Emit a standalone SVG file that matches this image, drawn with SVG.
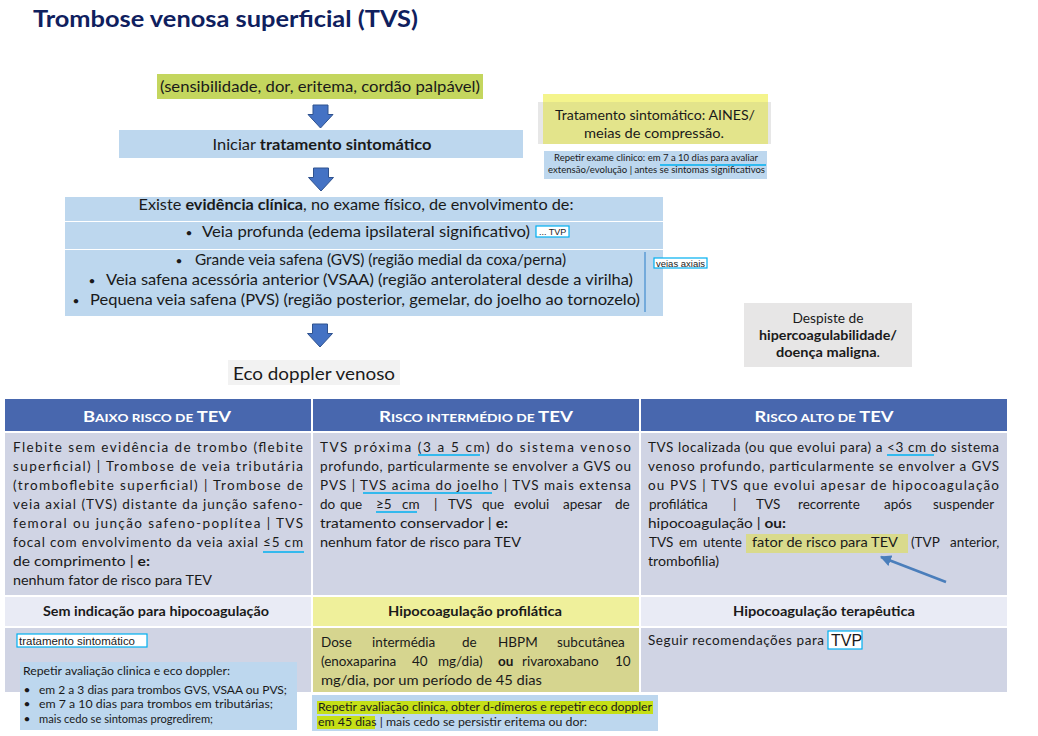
<svg xmlns="http://www.w3.org/2000/svg" width="1038" height="736" viewBox="0 0 1038 736">
<defs>
<style>
text { font-family: Lato, "Liberation Sans", sans-serif; fill: #1a1a1a; }
.title { fill: #0f205e; font-size: 23.5px; font-weight: 700; }
.f135 { font-size: 13.5px; }
.b { font-weight: 700; }
.m { text-anchor: middle; }
.hw { fill: #ffffff; font-weight: 700; }
.ar { font-family: "Liberation Sans", Arial, sans-serif; }
.ul { stroke: #00b0f0; stroke-width: 1.5; fill: none; }
.blk { fill: #4472c4; stroke: #2f528f; stroke-width: 1; }
.lb { fill: #bdd7ee; }
.body { fill: #d0d4e4; }
.band { fill: #e9ebf5; }
.hdr { fill: #4867ae; }
.tag { fill: #ffffff; stroke: #00b0f0; stroke-width: 1.2; }
.bul { font-size: 12px; text-anchor: middle; }
</style>
<path id="darr" d="M-7.5,0 H7.5 V9.5 H12.5 L0,23 L-12.5,9.5 H-7.5 Z"/>
<marker id="ah" viewBox="0 0 10 10" refX="9" refY="5" markerWidth="4.5" markerHeight="4.5" orient="auto">
<path d="M0,0 L10,5 L0,10 Z" fill="#4a7ebb"/>
</marker>
</defs>
<rect x="0" y="0" width="1038" height="736" fill="#ffffff"/>

<text id="title" class="title" x="33" y="27" textLength="385" lengthAdjust="spacingAndGlyphs">Trombose venosa superficial (TVS)</text>

<g id="sintomas">
<rect x="157" y="74" width="326" height="25" fill="#c4d65e"/>
<text x="320" y="92" class="m" font-size="15" textLength="320" lengthAdjust="spacingAndGlyphs">(sensibilidade, dor, eritema, cordão palpável)</text>
</g>

<g id="iniciar">
<rect x="119" y="130" width="404" height="28" class="lb"/>
<text x="322" y="150" class="m" font-size="15" textLength="219" lengthAdjust="spacingAndGlyphs">Iniciar <tspan class="b">tratamento sintomático</tspan></text>
</g>

<g id="evidencia">
<rect x="65" y="197" width="598" height="24" class="lb"/>
<rect x="65" y="222" width="598" height="27" class="lb"/>
<rect x="65" y="250" width="598" height="66" class="lb"/>
<text x="356" y="210" class="m" font-size="14.7" textLength="435" lengthAdjust="spacingAndGlyphs">Existe <tspan class="b">evidência clínica</tspan>,  no exame físico, de envolvimento de:</text>
<text x="189" y="237" class="bul">•</text>
<text x="202" y="237" font-size="14.7" textLength="328" lengthAdjust="spacingAndGlyphs">Veia profunda (edema ipsilateral significativo)</text>
<text x="179" y="265" class="bul">•</text>
<text x="195" y="265" font-size="14.7" textLength="371" lengthAdjust="spacingAndGlyphs">Grande veia safena (GVS) (região medial da coxa/perna)</text>
<text x="92" y="285" class="bul">•</text>
<text x="106" y="285" font-size="14.7" textLength="527" lengthAdjust="spacingAndGlyphs">Veia safena acessória anterior (VSAA) (região anterolateral desde a virilha)</text>
<text x="76" y="305" class="bul">•</text>
<text x="90" y="305" font-size="14.7" textLength="550" lengthAdjust="spacingAndGlyphs">Pequena veia safena (PVS) (região posterior, gemelar, do joelho ao tornozelo)</text>
<line x1="645" y1="252" x2="645" y2="312" stroke="#5b9bd5" stroke-width="1.5"/>
</g>

<g id="tag-tvp">
<rect x="536" y="226" width="33" height="11" class="tag"/>
<text x="539" y="235" class="ar" font-size="9">... TVP</text>
</g>

<g id="tag-axiais">
<rect x="654" y="258" width="53" height="10" class="tag"/>
<text x="656" y="266.5" class="ar" font-size="9.5" textLength="49" lengthAdjust="spacingAndGlyphs">veias axiais</text>
</g>

<g id="eco">
<rect x="228" y="360" width="172" height="25" fill="#f2f2f2"/>
<text x="314" y="380" class="m" font-size="17.5" textLength="162" lengthAdjust="spacingAndGlyphs">Eco doppler venoso</text>
</g>

<g id="tratamento-sint">
<rect x="538" y="102" width="233" height="42" fill="#e7e7e7"/>
<rect x="543" y="94" width="225" height="8" fill="#f4f48c"/>
<rect x="543" y="102" width="225" height="42" fill="#e3e48b"/>
<text x="655" y="120" class="m" font-size="14" textLength="200" lengthAdjust="spacingAndGlyphs">Tratamento sintomático: AINES/</text>
<text x="654" y="138" class="m" font-size="14" textLength="140" lengthAdjust="spacingAndGlyphs">meias de compressão.</text>
</g>

<g id="repetir-exame">
<rect x="544" y="151" width="223" height="28" class="lb"/>
<text x="554" y="161" font-size="8.5" textLength="204" lengthAdjust="spacingAndGlyphs">Repetir  exame  clinico:  em  7  a  10  dias  para  avaliar</text>
<text x="548" y="173" font-size="8.5" textLength="217" lengthAdjust="spacingAndGlyphs">extensão/evolução  | antes se sintomas significativos</text>
<line x1="660" y1="165" x2="766" y2="165" class="ul" stroke-width="1.2"/>
</g>

<g id="despiste">
<rect x="744" y="303" width="168" height="64" fill="#e7e6e6"/>
<text x="828" y="323" class="m" font-size="14" textLength="71" lengthAdjust="spacingAndGlyphs">Despiste de</text>
<text x="828" y="340" class="m b" font-size="14" textLength="138" lengthAdjust="spacingAndGlyphs">hipercoagulabilidade/</text>
<text x="828" y="357" class="m" font-size="14" textLength="104" lengthAdjust="spacingAndGlyphs"><tspan class="b">doença maligna</tspan>.</text>
</g>

<g id="baixo-risco">
<rect x="5" y="399" width="306" height="32" class="hdr"/>
<text x="157" y="422" class="hw m" textLength="148" lengthAdjust="spacingAndGlyphs"><tspan font-size="15.5">B</tspan><tspan font-size="11.5">AIXO RISCO DE </tspan><tspan font-size="15.5">TEV</tspan></text>
<rect x="5" y="433" width="306" height="162" class="body"/>
<g class="f135">
<text x="13" y="452" textLength="290" lengthAdjust="spacing">Flebite sem evidência de trombo (flebite</text>
<text x="13" y="471" textLength="290" lengthAdjust="spacing">superficial) | Trombose de veia tributária</text>
<text x="13" y="490" textLength="290" lengthAdjust="spacing">(tromboflebite superficial) | Trombose de</text>
<text x="13" y="509" textLength="290" lengthAdjust="spacing">veia axial (TVS) distante da junção safeno-</text>
<text x="13" y="528" textLength="290" lengthAdjust="spacing">femoral ou junção safeno-poplítea | TVS</text>
<text x="13" y="547" textLength="290" lengthAdjust="spacing">focal com envolvimento da veia axial ≤5 cm</text>
<text x="13" y="566" textLength="137" lengthAdjust="spacingAndGlyphs">de comprimento  | <tspan class="b">e:</tspan></text>
<text x="13" y="585" textLength="199" lengthAdjust="spacingAndGlyphs">nenhum fator de risco para TEV</text>
</g>
<line x1="263" y1="552" x2="304" y2="552" class="ul"/>
<rect x="5" y="597" width="306" height="29" class="band"/>
<text x="156" y="616" class="m b" font-size="13.5" textLength="226" lengthAdjust="spacingAndGlyphs">Sem indicação para hipocoagulação</text>
<rect x="5" y="628" width="306" height="64" class="body"/>
</g>

<g id="tag-trat">
<rect x="17" y="634" width="130" height="13" class="tag"/>
<text x="19" y="645" class="ar" font-size="11.5" textLength="116" lengthAdjust="spacingAndGlyphs">tratamento sintomático</text>
</g>

<g id="repetir-baixo">
<rect x="20" y="662" width="277" height="68" class="lb"/>
<text x="23" y="675" font-size="11" textLength="207" lengthAdjust="spacingAndGlyphs">Repetir avaliação clinica e eco doppler:</text>
<text x="27" y="694" class="bul" font-size="11">•</text>
<text x="39" y="694" font-size="11" textLength="248" lengthAdjust="spacingAndGlyphs">em 2 a 3 dias para trombos GVS, VSAA ou PVS;</text>
<text x="27" y="708" class="bul" font-size="11">•</text>
<text x="39" y="708" font-size="11" textLength="234" lengthAdjust="spacingAndGlyphs">em 7 a 10 dias para trombos em tributárias;</text>
<text x="27" y="723" class="bul" font-size="11">•</text>
<text x="39" y="723" font-size="11" textLength="174" lengthAdjust="spacingAndGlyphs">mais cedo se sintomas progredirem;</text>
</g>

<g id="risco-intermedio">
<rect x="313" y="399" width="326" height="32" class="hdr"/>
<text x="476" y="422" class="hw m" textLength="194" lengthAdjust="spacingAndGlyphs"><tspan font-size="15.5">R</tspan><tspan font-size="11.5">ISCO INTERMÉDIO DE </tspan><tspan font-size="15.5">TEV</tspan></text>
<rect x="313" y="433" width="326" height="162" class="body"/>
<g class="f135">
<text x="320" y="452" textLength="311" lengthAdjust="spacing">TVS próxima (3 a 5 cm) do sistema venoso</text>
<text x="320" y="471" textLength="311" lengthAdjust="spacing">profundo, particularmente se envolver a GVS ou</text>
<text x="320" y="490" textLength="311" lengthAdjust="spacing">PVS | TVS acima do joelho | TVS mais extensa</text>
<text y="509"><tspan x="320">do</tspan><tspan x="340">que</tspan><tspan x="376">≥5</tspan><tspan x="402">cm</tspan><tspan x="434">|</tspan><tspan x="448">TVS</tspan><tspan x="482">que</tspan><tspan x="514">evolui</tspan><tspan x="563">apesar</tspan><tspan x="615">de</tspan></text>
<text x="320" y="528" textLength="188" lengthAdjust="spacingAndGlyphs">tratamento conservador | <tspan class="b">e:</tspan></text>
<text x="320" y="547" textLength="201" lengthAdjust="spacingAndGlyphs">nenhum fator de risco para TEV</text>
</g>
<line x1="418" y1="455" x2="480" y2="455" class="ul"/>
<line x1="363" y1="493" x2="492" y2="493" class="ul"/>
<line x1="376" y1="512" x2="417" y2="512" class="ul"/>
<rect x="313" y="597" width="326" height="29" fill="#eff09b"/>
<text x="475" y="616" class="m b" font-size="13.5" textLength="174" lengthAdjust="spacingAndGlyphs">Hipocoagulação  profilática</text>
<rect x="313" y="628" width="326" height="64" fill="#d6d58f"/>
<g class="f135">
<text y="647"><tspan x="321">Dose</tspan><tspan x="372">intermédia</tspan><tspan x="462">de</tspan><tspan x="498">HBPM</tspan><tspan x="557">subcutânea</tspan></text>
<text y="666"><tspan x="321">(enoxaparina</tspan><tspan x="412">40</tspan><tspan x="438">mg/dia)</tspan><tspan x="498" class="b">ou</tspan><tspan x="522">rivaroxabano</tspan><tspan x="615">10</tspan></text>
<text x="321" y="685" textLength="221" lengthAdjust="spacingAndGlyphs">mg/dia, por um período de 45 dias</text>
</g>
</g>

<g id="repetir-profilatica">
<rect x="312" y="695" width="346" height="36" class="lb"/>
<rect x="317" y="701" width="336" height="13" fill="#c5df16"/>
<rect x="317" y="716" width="58" height="13" fill="#c5df16"/>
<text x="318" y="711" font-size="11" textLength="334" lengthAdjust="spacingAndGlyphs">Repetir avaliação clinica, obter d-dímeros e repetir eco doppler</text>
<text x="318" y="726" font-size="11" textLength="269" lengthAdjust="spacingAndGlyphs">em 45 dias | mais cedo se persistir eritema ou dor:</text>
</g>

<g id="risco-alto">
<rect x="641" y="399" width="366" height="32" class="hdr"/>
<text x="824" y="422" class="hw m" textLength="139" lengthAdjust="spacingAndGlyphs"><tspan font-size="15.5">R</tspan><tspan font-size="11.5">ISCO ALTO DE </tspan><tspan font-size="15.5">TEV</tspan></text>
<rect x="641" y="433" width="366" height="162" class="body"/>
<rect x="746" y="534" width="162" height="19" fill="#d9da8c"/>
<g class="f135">
<text x="648" y="452" textLength="351" lengthAdjust="spacing">TVS localizada (ou que evolui para) a &lt;3 cm do sistema</text>
<text x="648" y="471" textLength="351" lengthAdjust="spacing">venoso profundo, particularmente se envolver a GVS</text>
<text x="648" y="490" textLength="351" lengthAdjust="spacing">ou PVS | TVS que evolui apesar de hipocoagulação</text>
<text y="509"><tspan x="649">profilática</tspan><tspan x="733">|</tspan><tspan x="756">TVS</tspan><tspan x="798">recorrente</tspan><tspan x="884">após</tspan><tspan x="933">suspender</tspan></text>
<text x="648" y="528" textLength="138" lengthAdjust="spacingAndGlyphs">hipocoagulação  | <tspan class="b">ou:</tspan></text>
<text y="547"><tspan x="649">TVS</tspan><tspan x="679">em</tspan><tspan x="703">utente</tspan></text>
<text x="752" y="547" textLength="146" lengthAdjust="spacingAndGlyphs">fator de risco para TEV</text>
<text y="547"><tspan x="911">(TVP</tspan><tspan x="950">anterior,</tspan></text>
<text x="648" y="566" textLength="71" lengthAdjust="spacingAndGlyphs">trombofilia)</text>
</g>
<line x1="887" y1="455" x2="934" y2="455" class="ul"/>
<rect x="641" y="597" width="366" height="29" class="band"/>
<text x="824" y="616" class="m b" font-size="13.5" textLength="182" lengthAdjust="spacingAndGlyphs">Hipocoagulação  terapêutica</text>
<rect x="641" y="628" width="366" height="64" class="body"/>
<text x="648" y="645" class="f135" textLength="176" lengthAdjust="spacing">Seguir recomendações para</text>
</g>

<g id="tag-tvp2">
<rect x="828" y="631" width="34" height="18" class="tag"/>
<text x="831" y="646" class="ar" font-size="16">TVP</text>
</g>

<g id="connectors">
<use href="#darr" x="320.5" y="105" class="blk"/>
<use href="#darr" x="321" y="168" class="blk"/>
<use href="#darr" x="320" y="324" class="blk"/>
<line x1="946" y1="582" x2="881" y2="557" stroke="#4a7ebb" stroke-width="2.5" marker-end="url(#ah)"/>
</g>
</svg>
